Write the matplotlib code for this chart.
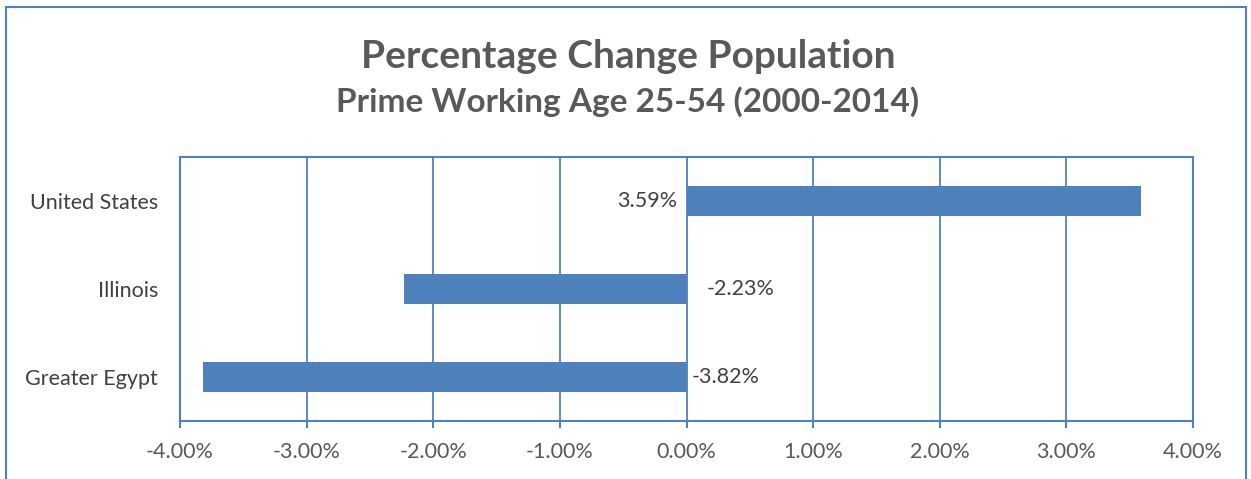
import matplotlib
matplotlib.use("Agg")
import matplotlib.pyplot as plt
from matplotlib.patches import Rectangle
import numpy as np

categories = ["Greater Egypt", "Illinois", "United States"]
values = [-3.82, -2.23, 3.59]
labels = ["-3.82%", "-2.23%", "3.59%"]
xticks = [-4, -3, -2, -1, 0, 1, 2, 3, 4]
xticklabels = ["-4.00%", "-3.00%", "-2.00%", "-1.00%", "0.00%", "1.00%", "2.00%", "3.00%", "4.00%"]

plt.rcParams['font.family'] = ['Lato', 'DejaVu Sans']
blue = "#4F81BD"
W, H = 1251, 479
fig = plt.figure(figsize=(W/100, H/100), dpi=100)
ax = fig.add_axes([180/W, 1-421/H, (1193-180)/W, (421-157)/H])

y = np.arange(len(categories))
ax.barh(y, values, height=0.35, color=blue, zorder=3)
ax.set_xlim(-4, 4)
ax.set_ylim(-0.5, 2.5)
ax.set_yticks(y)
ax.set_yticklabels(categories, fontsize=15.5, color="#404040")
ax.set_xticks(xticks)
ax.set_xticklabels(xticklabels, fontsize=15.5, color="#595959")
ax.tick_params(axis='y', length=0, pad=15.8)
ax.tick_params(axis='x', length=5, width=1.5, color=blue, pad=10)
ax.grid(axis='x', color=blue, linewidth=1.3, zorder=0)
for s in ax.spines.values():
    s.set_color(blue)
    s.set_linewidth(1.5)

offsets = [(5, 'left'), (20, 'left'), (-9, 'right')]
for yi, v, lab, (dx, ha) in zip(y, values, labels, offsets):
    ax.annotate(lab, (0, yi), xytext=(dx, 0), textcoords='offset pixels',
                ha=ha, va='center', fontsize=15.5, color="#404040", zorder=4)

fig.text(628/W, 1-57/H, "Percentage Change Population", ha='center', va='center',
         fontsize=28, fontweight='bold', color="#595959")
fig.text(628/W, 1-102/H, "Prime Working Age 25-54 (2000-2014)", ha='center', va='center',
         fontsize=24, fontweight='bold', color="#595959")

fig.patches.append(Rectangle((6/W, -0.1), (1246-6)/W, 1.1 - 7/H, transform=fig.transFigure,
                             fill=False, edgecolor=blue, linewidth=1.5))
fig.savefig("out.png", dpi=100)
